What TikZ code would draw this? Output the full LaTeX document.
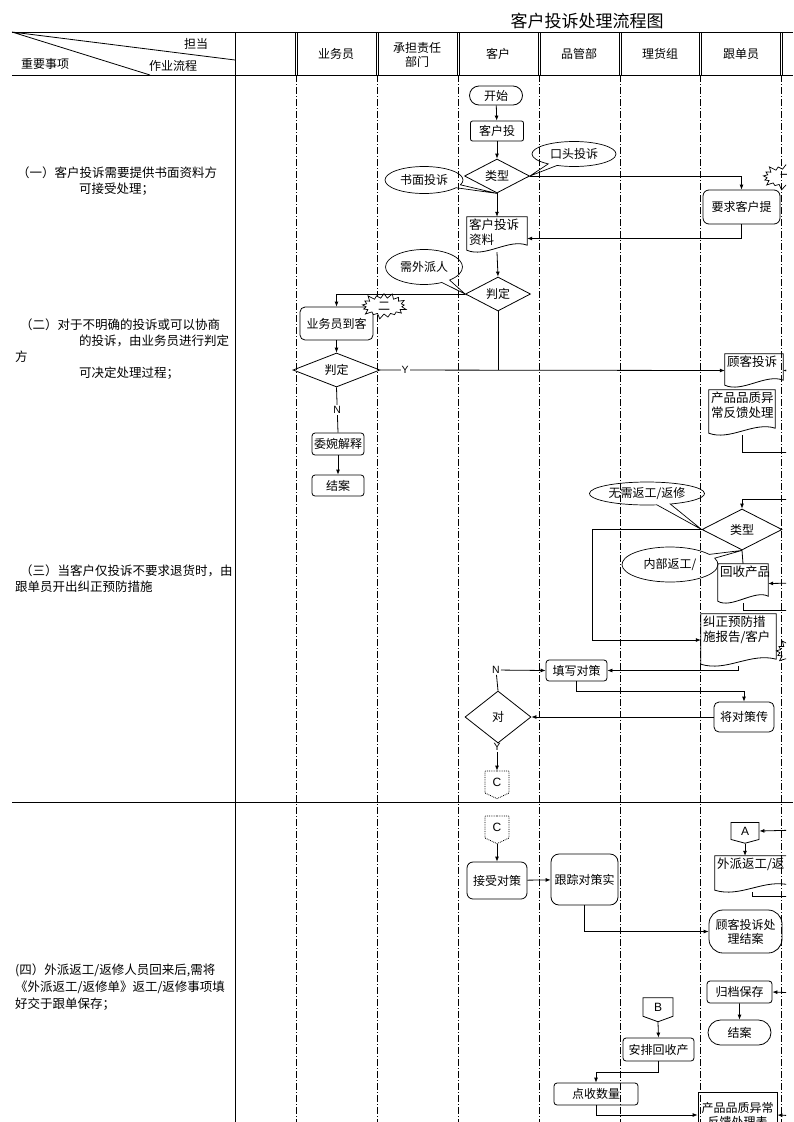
\documentclass[tikz,border=0pt]{standalone}
\usepackage{fontspec}
\setmainfont{Noto Sans CJK SC}
\newfontfamily\latin{Liberation Sans}
\usetikzlibrary{shapes.geometric,shapes.misc,shapes.callouts,shapes.symbols,arrows.meta}

\tikzset{
  every node/.style={font=\fontsize{12}{14}\selectfont},
  lane/.style={dash pattern=on 7pt off 2pt on 1pt off 2pt, line width=0.6pt},
  proc/.style={draw, rectangle, rounded corners=3pt, line width=0.8pt, inner sep=1pt},
  term/.style={draw, rounded rectangle, line width=0.8pt, inner sep=1pt},
  decision/.style={draw, diamond, aspect=2, inner sep=0pt, line width=0.8pt},
  docbox/.style={rectangle, inner sep=0pt},
  doctext/.style={anchor=north west, align=left, inner sep=2pt, font=\fontsize{12.5}{15}\selectfont},
  bubble/.style={draw, ellipse callout, callout pointer arc=14, inner sep=0pt, line width=0.7pt},
  burst/.style={draw, starburst, starburst point height=6pt, inner sep=0pt, line width=0.7pt},
  pagecon/.style={draw, signal, signal to=south, signal from=nowhere, signal pointer angle=130,
    inner sep=0pt, line width=0.8pt, font=\latin\fontsize{12}{14}\selectfont},
  conn/.style={-{Latex[length=5pt,width=4pt]}, line width=0.8pt},
  link/.style={line width=0.8pt},
  yn/.style={fill=white, inner sep=1pt, font=\latin\fontsize{10.5}{12}\selectfont},
  note/.style={anchor=north west, align=left, inner sep=0pt, font=\fontsize{12.5}{16}\selectfont},
}

% document symbol with a wavy bottom
\newcommand{\docshape}[1]{%
  \draw[line width=0.8pt] (#1.north west) -- (#1.north east) -- ([yshift=7pt]#1.south east)
    .. controls ([xshift=12pt,yshift=14pt]#1.south) and ([xshift=-12pt,yshift=-6pt]#1.south)
    .. ([yshift=2pt]#1.south west) -- cycle;}

\begin{document}
\begin{tikzpicture}[x=1pt,y=-1pt]
\useasboundingbox (0,0) rectangle (793,1122);

% Header
\node[font=\fontsize{17}{20}\selectfont] (title) at (587,21) {客户投诉处理流程图};
\draw[line width=0.9pt] (12,32) -- (793,32) (12,75) -- (793,75) (12,802) -- (793,802);
\draw[line width=0.8pt] (12,32) -- (235,60) (12,32) -- (150,75);
\node (hd1) at (196,44) {担当};
\node (hd2) at (45,64) {重要事项};
\node (hd3) at (173,66) {作业流程};
\draw[line width=0.8pt] (235,32) -- (235,1122);
\foreach \x in {296,377,458,539,620,700,781} {
  \draw[line width=0.6pt] (\x-1,32) -- (\x-1,75) (\x+1,32) -- (\x+1,75);
  \draw[lane] (\x,75) -- (\x,1122);
}
\node (ln1) at (336,54) {业务员};
\node[align=center] (ln2) at (417,55) {承担责任\\部门};
\node (ln3) at (498,54) {客户};
\node (ln4) at (579,54) {品管部};
\node (ln5) at (660,54) {理货组};
\node (ln6) at (741,54) {跟单员};

% Notes
\node[note] (s1) at (17,167) {（一）客户投诉需要提供书面资料方\\\hspace*{62pt}可接受处理；};
\node[note, font=\fontsize{12.5}{15.7}\selectfont] (s2) at (15,319)
  {\hspace*{5pt}（二）对于不明确的投诉或可以协商\\\hspace*{64pt}的投诉，由业务员进行判定\\方\\\hspace*{64pt}可决定处理过程；};
\node[note, font=\fontsize{12.5}{15.5}\selectfont] (s3) at (15,565)
  {\hspace*{5pt}（三）当客户仅投诉不要求退货时，由\\跟单员开出纠正预防措施};
\node[note, font=\fontsize{12.5}{17}\selectfont] (s4) at (15,964)
  {(四）外派返工/返修人员回来后,需将\\《外派返工/返修单》返工/返修事项填\\好交于跟单保存；};

\begin{scope}
\clip (0,32) rectangle (786,1122);

% Nodes
\node[term, minimum width=55pt, minimum height=19pt] (start) at (496,95.5) {开始};
\node[proc, rounded corners=2pt, minimum width=53pt, minimum height=20pt] (recv) at (497,131) {客户投};
\node[decision, minimum width=65pt, minimum height=34pt] (kind1) at (497,176) {类型};
\node[bubble, minimum width=78pt, minimum height=27pt, callout absolute pointer={(kind1.south)}] (written) at (424,180) {书面投诉};
\node[bubble, minimum width=84pt, minimum height=25pt, callout absolute pointer={(kind1.east)}] (oral) at (574,154) {口头投诉};
\node[burst, minimum width=50pt, minimum height=28pt] (burst1) at (786,177) {一};
\node[proc, rounded corners=6pt, minimum width=77pt, minimum height=34pt] (ask) at (741.5,207) {要求客户提};
\node[docbox, minimum width=60pt, minimum height=35pt] (file) at (497,234.5) {};
\node[doctext] (filet) at (file.north west) {客户投诉\\资料};
\node[decision, minimum width=65pt, minimum height=34pt] (judge1) at (498,294) {判定};
\node[bubble, minimum width=77pt, minimum height=35pt, callout absolute pointer={(judge1.west)}] (send) at (424,267) {需外派人};
\node[proc, rounded corners=5pt, minimum width=73pt, minimum height=33pt] (visit) at (336.5,323.5) {业务员到客};
\node[burst, fill=white, minimum width=48pt, minimum height=28pt] (burst2) at (384,306) {二};
\node[decision, minimum width=87pt, minimum height=34pt] (judge2) at (336.5,370) {判定};
\node[proc, minimum width=52pt, minimum height=22pt] (soothe) at (338,444) {委婉解释};
\node[proc, minimum width=52pt, minimum height=21pt] (close1) at (338,485.5) {结案};
\node[docbox, minimum width=58pt, minimum height=33pt] (cdoc) at (754,370.5) {};
\node[doctext] (cdoct) at (cdoc.north west) {顾客投诉};
\node[docbox, minimum width=66pt, minimum height=45pt] (fdoc) at (742,412.5) {};
\node[doctext] (fdoct) at (fdoc.north west) {产品品质异\\常反馈处理};
\node[decision, minimum width=80pt, minimum height=41pt] (kind2) at (742,529.5) {类型};
\node[bubble, minimum width=115pt, minimum height=23pt, callout absolute pointer={(kind2.west)}] (norework) at (647,493.5) {无需返工/返修};
\node[bubble, minimum width=96pt, minimum height=35pt, callout absolute pointer={(kind2.south)}] (inner) at (670,564.5) {内部返工/};
\node[docbox, minimum width=50pt, minimum height=39pt] (recall) at (743,583.5) {};
\node[doctext] (recallt) at (recall.north west) {回收产品};
\node[burst, minimum width=50pt, minimum height=30pt] (burst3) at (799,652) {};
\node[docbox, minimum width=75pt, minimum height=52pt] (capa) at (738.5,640) {};
\node[doctext] (capat) at (capa.north west) {纠正预防措\\施报告/客户};
\node[proc, minimum width=61pt, minimum height=21pt] (fill) at (576.5,670.5) {填写对策};
\node[yn, fill=none] (no2) at (496,670) {N};
\node[proc, rounded corners=5pt, minimum width=60pt, minimum height=30pt] (pass) at (744,717) {将对策传};
\node[decision, minimum width=66pt, minimum height=52pt] (ok) at (498,717) {对};
\node[yn, fill=none] (yes2) at (497,747) {Y};
\node[pagecon, densely dotted, minimum width=24pt, minimum height=24pt] (pc1) at (497,782) {C};

\node[pagecon, densely dotted, minimum width=24pt, minimum height=24pt] (pc2) at (497,827) {C};
\node[proc, rounded corners=6pt, minimum width=60pt, minimum height=37pt] (accept) at (497,880.5) {接受对策};
\node[proc, rounded corners=8pt, minimum width=67pt, minimum height=51pt] (track) at (584.5,879.5) {跟踪对策实};
\node[proc, rounded corners=14pt, minimum width=73pt, minimum height=43pt, align=center] (done) at (745.5,931.5) {顾客投诉处\\理结案};
\node[pagecon, signal pointer angle=150, minimum width=28pt, minimum height=18pt] (pca) at (745,831) {A};
\node[docbox, minimum width=75pt, minimum height=36pt] (outdoc) at (752.5,874) {};
\node[doctext] (outdoct) at (outdoc.north west) {外派返工/返};
\node[proc, minimum width=65pt, minimum height=22pt] (store) at (739.5,992) {归档保存};
\node[term, minimum width=65pt, minimum height=25pt] (close2) at (739.5,1032.5) {结案};
\node[pagecon, signal pointer angle=140, minimum width=30pt, minimum height=20pt] (pcb) at (658,1007) {B};
\node[proc, minimum width=71pt, minimum height=23pt] (arrange) at (658.5,1049.5) {安排回收产};
\node[proc, minimum width=84pt, minimum height=22pt] (count) at (596,1094) {点收数量};
\node[draw, line width=0.8pt, minimum width=79pt, minimum height=46pt, align=center, inner sep=1pt] (report) at (737.5,1115) {产品品质异常\\反馈处理表};

% free ends at the right border
\coordinate (e0) at (800,370.5);
\coordinate (e1) at (800,452);
\coordinate (e2) at (800,499);
\coordinate (e3) at (800,583);
\coordinate (e4) at (800,610);
\coordinate (e5) at (800,830);
\coordinate (e6) at (800,896);
\coordinate (e7) at (800,993);
\coordinate (e8) at (800,1116);

% Documents
\docshape{file} \docshape{cdoc} \docshape{fdoc} \docshape{recall} \docshape{capa} \docshape{outdoc}

% Edges
\draw[conn] (start) -- (recv);
\draw[conn] (recv) -- (kind1);
\draw[conn] (kind1.east) -| (ask.north);
\draw[conn] (kind1.south) -- (file.north);
\draw[conn] (ask.south) |- ([yshift=-4pt]file.east);
\draw[conn] (file.south) -- (judge1.north);
\draw[conn] (judge1.west) -| (visit.north);
\draw[conn] (visit) -- (judge2);
\draw[conn] (judge2.east) -- node[yn, pos=0.072] (yes1) {Y} (cdoc.west);
\draw[link] (judge1.south) -- (judge1.south |- judge2.east);
\draw[link] (judge2.south) -- node[yn] (no1) {N} (soothe.north);
\draw[conn] (soothe) -- (close1);
\draw[conn] (e0) -- (cdoc.east);
\draw[link] (fdoc.south) |- (e1);
\draw[conn] (e2) -| (kind2.north);
\draw[conn] (kind2.west) -- ++(-109,0) |- (capa.west);
\draw[link] (kind2.south) -- (recall.north);
\draw[conn] (e3) -- (recall.east);
\draw[link] (recall.south) |- (e4);
\draw[conn] (capa.south) |- (fill.east);
\draw[conn] (no2) -- (fill.west);
\draw[link] (no2) -- (ok.north);
\draw[conn] (fill.south) -- ++(0,10) -| (pass.north);
\draw[conn] (pass.west) -- (ok.east);
\draw[link] (ok.south) -- (yes2);
\draw[conn] (yes2) -- (pc1.north);

\draw[conn] (pc2.south) -- (accept.north);
\draw[conn] (accept) -- (track);
\draw[conn] (track.south) |- (done.west);
\draw[conn] (e5) -- (pca.east);
\draw[conn] (pca.south) -- (pca.south |- outdoc.north);
\draw[link] (outdoc.south) -- ++(0,4) -| (e6);
\draw[conn] (e7) -- (store.east);
\draw[conn] (store) -- (close2);
\draw[conn] (pcb.south) -- (arrange.north);
\draw[conn] (arrange.south) -- ++(0,11) -| (count.north);
\draw[conn] (count.south) |- (report.west);
\draw[conn] (e8) -- (report.east);
\end{scope}
\end{tikzpicture}
\end{document}
